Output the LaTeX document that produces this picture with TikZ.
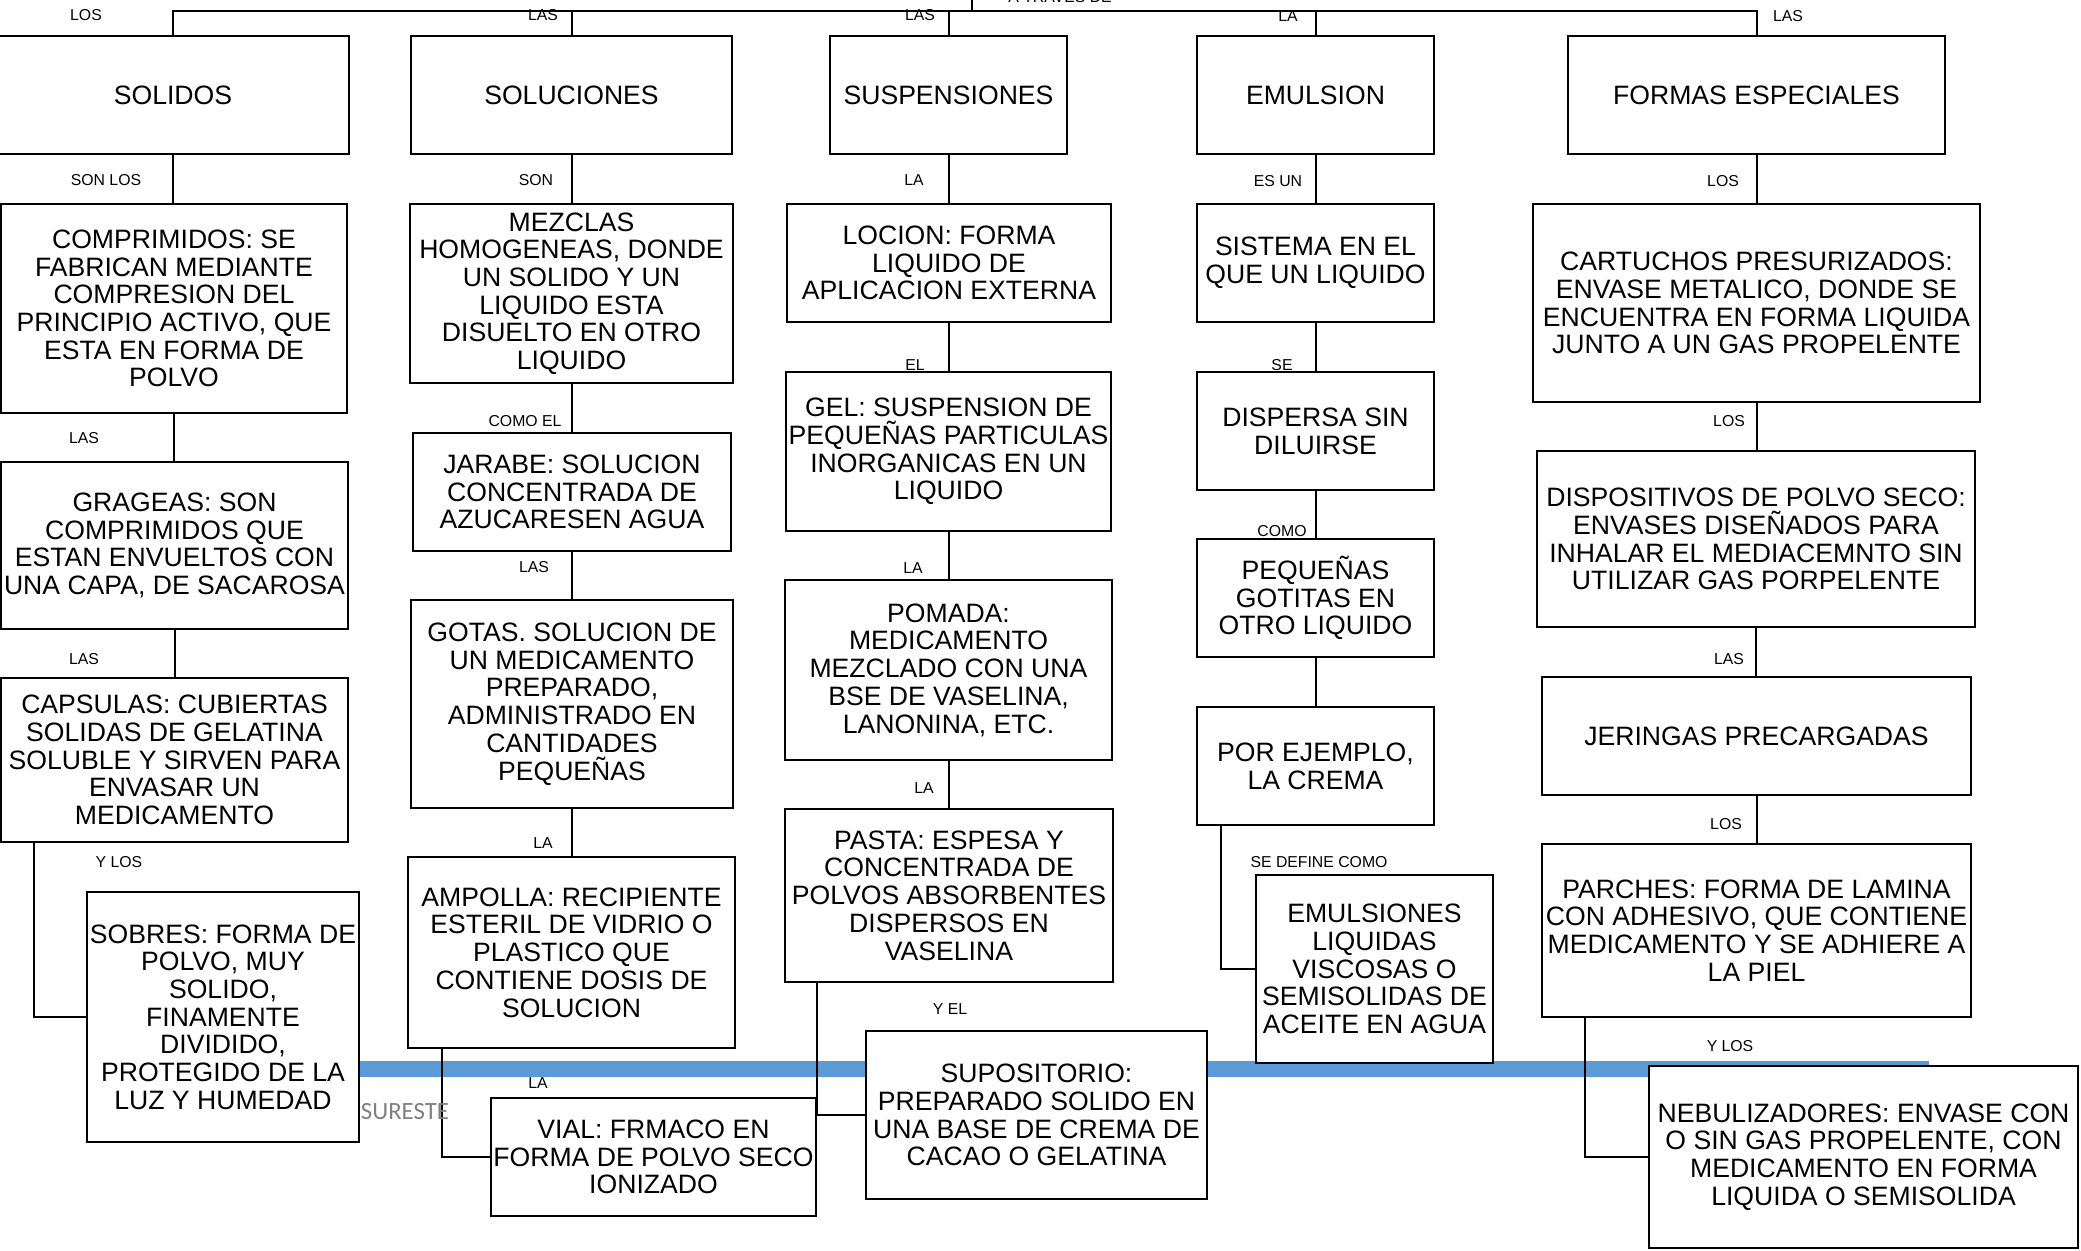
\documentclass[tikz,border=0pt]{standalone}
\usepackage{fontspec}
\setmainfont{Liberation Sans}
\newfontfamily\carlito{Carlito}
\definecolor{bandblue}{HTML}{5B9BD5}
\definecolor{sgray}{HTML}{808080}
\newcommand\bx[6]{\node[box, minimum width={(#4-#2)*0.5pt}, minimum height={(#5-#3)*0.5pt}] (#1) at ({(#2+#4)/2},{(#3+#5)/2}) {#6};}
\begin{document}
\begin{tikzpicture}[x=0.5pt,y=-0.5pt,
  box/.style={draw, line width=1.2pt, fill=white, inner sep=0pt, align=center, font=\fontsize{13.3}{13.85}\selectfont},
  lbl/.style={inner sep=0pt, font=\fontsize{7.9}{8.5}\selectfont},
  conn/.style={line width=1pt}]
\useasboundingbox (0,0) rectangle (2081,1250);
% blue band behind everything
\fill[bandblue] (300,1061) rectangle (1929,1077);
% header boxes
\bx{solidos}{-3}{36}{349}{154}{SOLIDOS}
\bx{soluciones}{411}{36}{732}{154}{SOLUCIONES}
\bx{suspensiones}{830}{36}{1067}{154}{SUSPENSIONES}
\bx{emulsion}{1197}{36}{1434}{154}{EMULSION}
\bx{formas}{1568}{36}{1945}{154}{FORMAS ESPECIALES}
% row 2
\bx{comprimidos}{1}{204}{347}{413}{COMPRIMIDOS: SE\\FABRICAN MEDIANTE\\COMPRESION DEL\\PRINCIPIO ACTIVO, QUE\\ESTA EN FORMA DE\\POLVO}
\bx{mezclas}{410}{204}{733}{383}{MEZCLAS\\HOMOGENEAS, DONDE\\UN SOLIDO Y UN\\LIQUIDO ESTA\\DISUELTO EN OTRO\\LIQUIDO}
\bx{locion}{787}{204}{1111}{322}{LOCION: FORMA\\LIQUIDO DE\\APLICACION EXTERNA}
\bx{sistema}{1197}{204}{1434}{322}{SISTEMA EN EL\\QUE UN LIQUIDO}
\bx{cartuchos}{1533}{204}{1980}{402}{CARTUCHOS PRESURIZADOS:\\ENVASE METALICO, DONDE SE\\ENCUENTRA EN FORMA LIQUIDA\\JUNTO A UN GAS PROPELENTE}
% row 3
\bx{grageas}{1}{462}{348}{629}{GRAGEAS: SON\\COMPRIMIDOS QUE\\ESTAN ENVUELTOS CON\\UNA CAPA, DE SACAROSA}
\bx{jarabe}{413}{433}{731}{551}{JARABE: SOLUCION\\CONCENTRADA DE\\AZUCARESEN AGUA}
\bx{gel}{786}{372}{1111}{531}{GEL: SUSPENSION DE\\PEQUEÑAS PARTICULAS\\INORGANICAS EN UN\\LIQUIDO}
\bx{dispersa}{1197}{372}{1434}{490}{DISPERSA SIN\\DILUIRSE}
\bx{dispositivos}{1537}{451}{1975}{627}{DISPOSITIVOS DE POLVO SECO:\\ENVASES DISEÑADOS PARA\\INHALAR EL MEDIACEMNTO SIN\\UTILIZAR GAS PORPELENTE}
% row 4
\bx{capsulas}{1}{678}{348}{842}{CAPSULAS: CUBIERTAS\\SOLIDAS DE GELATINA\\SOLUBLE Y SIRVEN PARA\\ENVASAR UN\\MEDICAMENTO}
\bx{gotas}{411}{600}{733}{808}{GOTAS. SOLUCION DE\\UN MEDICAMENTO\\PREPARADO,\\ADMINISTRADO EN\\CANTIDADES\\PEQUEÑAS}
\bx{pomada}{785}{580}{1112}{760}{POMADA:\\MEDICAMENTO\\MEZCLADO CON UNA\\BSE DE VASELINA,\\LANONINA, ETC.}
\bx{pequenas}{1197}{539}{1434}{657}{PEQUEÑAS\\GOTITAS EN\\OTRO LIQUIDO}
\bx{jeringas}{1542}{677}{1971}{795}{JERINGAS PRECARGADAS}
% row 5
\bx{sobres}{87}{892}{359}{1142}{SOBRES: FORMA DE\\POLVO, MUY\\SOLIDO,\\FINAMENTE\\DIVIDIDO,\\PROTEGIDO DE LA\\LUZ Y HUMEDAD}
\bx{ampolla}{408}{857}{735}{1048}{AMPOLLA: RECIPIENTE\\ESTERIL DE VIDRIO O\\PLASTICO QUE\\CONTIENE DOSIS DE\\SOLUCION}
\bx{pasta}{785}{809}{1113}{982}{PASTA: ESPESA Y\\CONCENTRADA DE\\POLVOS ABSORBENTES\\DISPERSOS EN\\VASELINA}
\bx{porejemplo}{1197}{707}{1434}{825}{POR EJEMPLO,\\LA CREMA}
\bx{parches}{1542}{844}{1971}{1017}{PARCHES: FORMA DE LAMINA\\CON ADHESIVO, QUE CONTIENE\\MEDICAMENTO Y SE ADHIERE A\\LA PIEL}
% row 6
\bx{vial}{491}{1098}{816}{1216}{VIAL: FRMACO EN\\FORMA DE POLVO SECO\\IONIZADO}
\bx{supositorio}{866}{1031}{1207}{1199}{SUPOSITORIO:\\PREPARADO SOLIDO EN\\UNA BASE DE CREMA DE\\CACAO O GELATINA}
\bx{emulsiones}{1256}{875}{1493}{1063}{EMULSIONES\\LIQUIDAS\\VISCOSAS O\\SEMISOLIDAS DE\\ACEITE EN AGUA}
\bx{nebulizadores}{1649}{1066}{2078}{1248}{NEBULIZADORES: ENVASE CON\\O SIN GAS PROPELENTE, CON\\MEDICAMENTO EN FORMA\\LIQUIDA O SEMISOLIDA}
% top bus
\coordinate (src) at (972,-10);
\coordinate (bus) at (972,11);
\draw[conn] (src) -- (bus);
\draw[conn] (solidos.north) -- (solidos.north |- bus) -- (formas.north |- bus) -- (formas.north);
\draw[conn] (soluciones.north) -- (soluciones.north |- bus);
\draw[conn] (suspensiones.north) -- (suspensiones.north |- bus);
\draw[conn] (emulsion.north) -- (emulsion.north |- bus);
% vertical chains
\draw[conn] (solidos.south) -- (solidos.south |- comprimidos.north);
\draw[conn] (comprimidos.south) -- (comprimidos.south |- grageas.north);
\draw[conn] (grageas.south) -- (grageas.south |- capsulas.north);
\draw[conn] (soluciones.south) -- (soluciones.south |- mezclas.north);
\draw[conn] (mezclas.south) -- (mezclas.south |- jarabe.north);
\draw[conn] (jarabe.south) -- (jarabe.south |- gotas.north);
\draw[conn] (gotas.south) -- (gotas.south |- ampolla.north);
\draw[conn] (suspensiones.south) -- (suspensiones.south |- locion.north);
\draw[conn] (locion.south) -- (locion.south |- gel.north);
\draw[conn] (gel.south) -- (gel.south |- pomada.north);
\draw[conn] (pomada.south) -- (pomada.south |- pasta.north);
\draw[conn] (emulsion.south) -- (emulsion.south |- sistema.north);
\draw[conn] (sistema.south) -- (sistema.south |- dispersa.north);
\draw[conn] (dispersa.south) -- (dispersa.south |- pequenas.north);
\draw[conn] (pequenas.south) -- (pequenas.south |- porejemplo.north);
\draw[conn] (formas.south) -- (formas.south |- cartuchos.north);
\draw[conn] (cartuchos.south) -- (cartuchos.south |- dispositivos.north);
\draw[conn] (dispositivos.south) -- (dispositivos.south |- jeringas.north);
\draw[conn] (jeringas.south) -- (jeringas.south |- parches.north);
% elbow connectors
\coordinate (xa) at (34,0);
\coordinate (xb) at (442,0);
\coordinate (xc) at (817,0);
\coordinate (xd) at (1221,0);
\coordinate (xe) at (1585,0);
\draw[conn] (xa |- capsulas.south) |- (sobres.west);
\draw[conn] (xb |- ampolla.south) |- (vial.west);
\draw[conn] (xc |- pasta.south) |- (supositorio.west);
\draw[conn] (xd |- porejemplo.south) |- (emulsiones.west);
\draw[conn] (xe |- parches.south) |- (nebulizadores.west);
% labels
\node[lbl, anchor=base west] (tA) at (1008,2) {A TRAVES DE};
\node[lbl] (l1) at (86,15) {LOS};
\node[lbl] (l2) at (543,15) {LAS};
\node[lbl] (l3) at (920,15) {LAS};
\node[lbl] (l4) at (1288,16) {LA};
\node[lbl] (l5) at (1788,16) {LAS};
\node[lbl] (l6) at (106,180) {SON LOS};
\node[lbl] (l7) at (536,180) {SON};
\node[lbl] (l8) at (914,180) {LA};
\node[lbl] (l9) at (1278,181) {ES UN};
\node[lbl] (l10) at (1723,181) {LOS};
\node[lbl] (l11) at (84,438) {LAS};
\node[lbl] (l12) at (525,421) {COMO EL};
\node[lbl] (l13) at (915,365) {EL};
\node[lbl] (l14) at (1282,365) {SE};
\node[lbl] (l15) at (1729,421) {LOS};
\node[lbl] (l16) at (84,659) {LAS};
\node[lbl] (l17) at (534,567) {LAS};
\node[lbl] (l18) at (913,568) {LA};
\node[lbl] (l19) at (1282,531) {COMO};
\node[lbl] (l20) at (1729,659) {LAS};
\node[lbl] (l21) at (119,862) {Y LOS};
\node[lbl] (l22) at (543,843) {LA};
\node[lbl] (l23) at (924,788) {LA};
\node[lbl] (l24) at (1726,824) {LOS};
\node[lbl] (l25) at (538,1083) {LA};
\node[lbl] (l26) at (950,1009) {Y EL};
\node[lbl] (l27) at (1319,862) {SE DEFINE COMO};
\node[lbl] (l28) at (1730,1046) {Y LOS};
\node[inner sep=0pt, text=sgray, font=\carlito\fontsize{12.4}{13}\selectfont] (sureste) at (405,1112) {SURESTE};
\end{tikzpicture}
\end{document}
